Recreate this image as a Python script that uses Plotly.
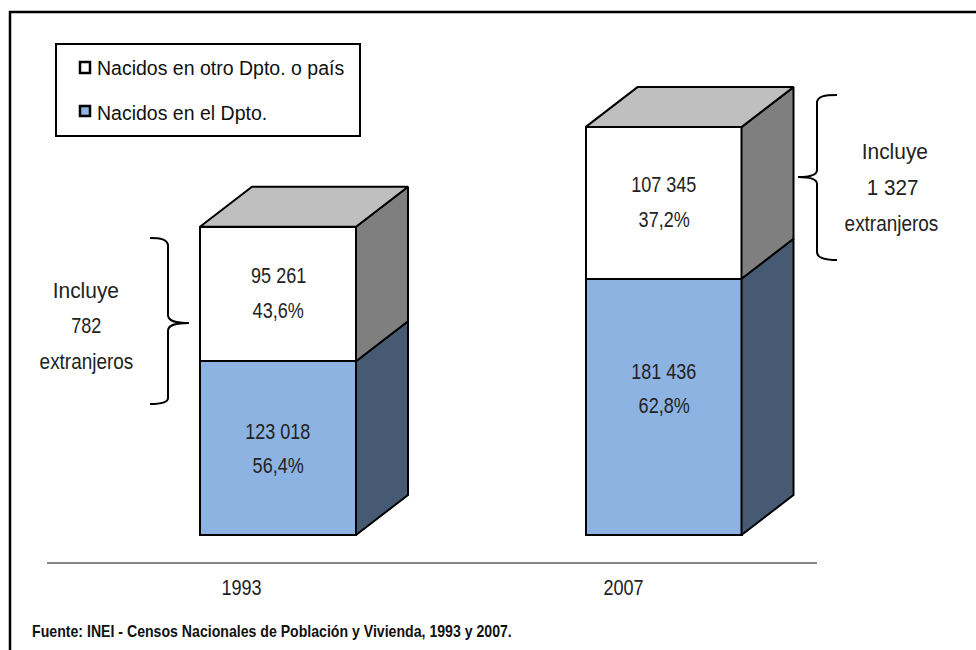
import plotly.graph_objects as go

years = ["1993", "2007"]
nacidos_dpto = [123018, 181436]
nacidos_otro = [95261, 107345]
pct_dpto = ["56,4%", "62,8%"]
pct_otro = ["43,6%", "37,2%"]
lab_dpto = ["123 018", "181 436"]
lab_otro = ["95 261", "107 345"]
legend_labels = ["Nacidos en otro Dpto. o país", "Nacidos en el Dpto."]
source = "Fuente: INEI - Censos Nacionales de Población y Vivienda, 1993 y 2007."
notes = [["Incluye", "782", "extranjeros"], ["Incluye", "1 327", "extranjeros"]]

W, H = 976, 650
X0, XSTEP = 278.0, 385.5   # px of the first bar centre, px per category
Y0, YSCALE = 535.0, 1.4125 / 1000  # px of value 0, px per unit
BAR_W = 156 / XSTEP
DX, DY = 52 / XSTEP, 40 / YSCALE
NARROW = "Liberation Sans Narrow, Liberation Sans"
WIDE = "Liberation Sans"
INK = "#000000"
TXT = "#222222"


def px(x, y):
    return x / W, 1 - y / H


fig = go.Figure()


def face(xs, ys, color):
    fig.add_trace(go.Scatter(x=xs, y=ys, mode="lines", fill="toself", fillcolor=color,
                             line=dict(color=INK, width=2), hoverinfo="skip", showlegend=False))


for i in range(2):
    r = i + BAR_W / 2
    a, t = nacidos_dpto[i], nacidos_dpto[i] + nacidos_otro[i]
    face([r, r + DX, r + DX, r, r], [0, DY, a + DY, a, 0], "#475A74")
    face([r, r + DX, r + DX, r, r], [a, a + DY, t + DY, t, a], "#7F7F7F")
    l = i - BAR_W / 2
    face([l, l + DX, r + DX, r, l], [t, t + DY, t + DY, t, t], "#BFBFBF")

fig.add_trace(go.Bar(x=[0, 1], y=nacidos_dpto, width=BAR_W, name=legend_labels[1],
                     marker=dict(color="#8DB3E2", line=dict(color=INK, width=2)),
                     showlegend=False, hoverinfo="skip"))
fig.add_trace(go.Bar(x=[0, 1], y=nacidos_otro, width=BAR_W, name=legend_labels[0],
                     marker=dict(color="#FFFFFF", line=dict(color=INK, width=2)),
                     showlegend=False, hoverinfo="skip"))

anns = []


def text(x, y, s, size=22, font=NARROW, anchor="center", color=TXT, weight="normal"):
    px_x, px_y = px(x, y)
    anns.append(dict(x=px_x, y=px_y, xref="paper", yref="paper", text=s, showarrow=False,
                     xanchor=anchor, yanchor="middle",
                     font=dict(family=font, size=size, color=color, weight=weight)))


dpto_label_shift = [0, -18]
year_x = [241, 623]
for i in range(2):
    cx = X0 + XSTEP * i
    a, b = nacidos_dpto[i], nacidos_otro[i]
    ya = Y0 - a / 2 * YSCALE + dpto_label_shift[i]
    yb = Y0 - (a + b / 2) * YSCALE
    text(cx, ya - 17, lab_dpto[i])
    text(cx, ya + 17, pct_dpto[i])
    text(cx, yb - 18, lab_otro[i])
    text(cx, yb + 17, pct_otro[i])
    text(year_x[i], 587, years[i])

for j, s in enumerate(notes[0]):
    text(86, 291 + 35 * j, s)
note_right_x = [895, 892, 891]
for j, s in enumerate(notes[1]):
    text(note_right_x[j], 152 + 36 * j, s)

text(95, 68, legend_labels[0], size=19.5, font=WIDE, anchor="left", color="#111111")
text(95, 113, legend_labels[1], size=19.5, font=WIDE, anchor="left", color="#111111")
text(272, 631, source, size=17, color="#111111", weight="bold")

shapes = []


def rect(x0, y0, x1, y1, fill=None, lw=2, color=INK):
    a, b = px(x0, y0)
    c, d = px(x1, y1)
    shapes.append(dict(type="rect", xref="paper", yref="paper", x0=a, y0=b, x1=c, y1=d,
                       fillcolor=fill or "rgba(0,0,0,0)", line=dict(color=color, width=lw)))


def path(points, color=INK, lw=2):
    parts = []
    for cmd, pts in points:
        coords = " ".join(f"{x / W:.5f},{1 - y / H:.5f}" for x, y in pts)
        parts.append(f"{cmd} {coords}")
    shapes.append(dict(type="path", xref="paper", yref="paper", path=" ".join(parts),
                       line=dict(color=color, width=lw)))


# frame, open at the right and bottom page edges
path([("M", [(10, 660)]), ("L", [(10, 12)]), ("L", [(976, 12)])], lw=2.5)
# legend
rect(56, 44, 360, 136)
rect(80, 62, 90, 73, "#FFFFFF", lw=2.5)
rect(80, 106, 90, 116, "#8DB3E2", lw=2.5)
# axis line
path([("M", [(47, 563)]), ("L", [(817, 563)])], color="#868686", lw=2)
# left brace
path([("M", [(150, 238)]), ("C", [(160, 238), (168, 239), (168, 246)]), ("L", [(168, 315)]),
      ("C", [(168, 321), (175, 323), (189, 323)]), ("C", [(175, 323), (168, 325), (168, 331)]),
      ("L", [(168, 398)]), ("C", [(168, 403), (160, 404), (150, 404)])])
# right brace
path([("M", [(837, 95)]), ("C", [(825, 95), (817, 96), (817, 103)]), ("L", [(817, 170)]),
      ("C", [(817, 175), (810, 177), (798, 177)]), ("C", [(810, 177), (817, 179), (817, 184)]),
      ("L", [(817, 252)]), ("C", [(817, 258), (825, 260), (837, 260)])])

fig.update_layout(
    width=W, height=H, margin=dict(l=0, r=0, t=0, b=0, pad=0), autosize=False,
    paper_bgcolor="white", plot_bgcolor="white", showlegend=False,
    barmode="stack", annotations=anns, shapes=shapes,
    xaxis=dict(range=[-X0 / XSTEP, (W - X0) / XSTEP], visible=False, fixedrange=True),
    yaxis=dict(range=[(Y0 - H) / YSCALE, Y0 / YSCALE], visible=False, fixedrange=True),
)

# the page's default body margin would push the chart 8px; the reference's narrow
# face is not installed, so the same real text is condensed horizontally
POST = """
document.body.style.margin = '0';
var loose = {'Incluye': 0.95, '1 327': 0.94, 'extranjeros': 0.86};
document.querySelectorAll('.annotation-text').forEach(function (t) {
  if (t.style.fontFamily.indexOf('Narrow') >= 0) {
    var k = loose[t.textContent] || (t.textContent.length > 40 ? 0.83 : 0.82);
    t.setAttribute('textLength', t.getComputedTextLength() * k);
    t.setAttribute('lengthAdjust', 'spacingAndGlyphs');
  }
});
"""
fig.write_html("out.html", config={"displayModeBar": False}, post_script=POST)
